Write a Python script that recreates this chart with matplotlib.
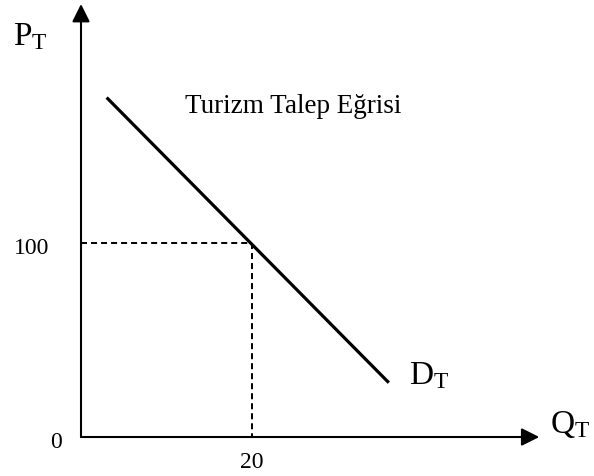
import matplotlib
matplotlib.use("Agg")
import matplotlib.pyplot as plt

plt.rcParams['font.family'] = ['Liberation Serif', 'DejaVu Serif']
plt.rcParams['mathtext.fontset'] = 'custom'
plt.rcParams['mathtext.rm'] = 'Liberation Serif'

# Data
demand_q = [3.0, 36.0]
demand_p = [175.0, 28.0]
eq_q = 20
eq_p = 100
tick_labels = {"origin": "0", "q": "20", "p": "100"}
title_text = "Turizm Talep Eğrisi"
x_label = r"$\mathregular{Q_T}$"
y_label = r"$\mathregular{P_T}$"
curve_label = r"$\mathregular{D_T}$"
q_axis_end = 53.6
p_axis_end = 223.2

fig = plt.figure(figsize=(5.94, 4.77), dpi=100)
ax = fig.add_axes([0, 0, 1, 1])
ax.set_xlim(-9.474, 60.0)
ax.set_ylim(-20.1, 225.8)
ax.axis('off')

arrow_kw = dict(arrowstyle='-|>,head_length=0.4,head_width=0.2', mutation_scale=27,
                lw=1.5, color='black', shrinkA=0, shrinkB=0)
ax.annotate('', xy=(q_axis_end, 0), xytext=(0, 0), arrowprops=arrow_kw)
ax.annotate('', xy=(0, p_axis_end), xytext=(0, 0), arrowprops=arrow_kw)

ax.plot(demand_q, demand_p, color='black', lw=2.3, solid_capstyle='butt')

ax.plot([0, eq_q], [eq_p, eq_p], color='black', lw=1.4, dashes=(3.1, 2.05))
ax.plot([eq_q, eq_q], [eq_p, 0], color='black', lw=1.4, dashes=(3.1, 2.05))

ax.text(-5.73, 94.8, tick_labels["p"], fontsize=17, ha='center', va='baseline')
ax.text(-2.92, -5.15, tick_labels["origin"], fontsize=17, ha='center', va='baseline')
ax.text(eq_q, -15.5, tick_labels["q"], fontsize=17, ha='center', va='baseline')

ax.text(12.16, 167.5, title_text, fontsize=19.5, ha='left', va='baseline')
ax.text(-7.95, 202.6, y_label, fontsize=24, ha='left', va='baseline')
ax.text(38.36, 27.8, curve_label, fontsize=24, ha='left', va='baseline')
ax.text(54.9, 2.58, x_label, fontsize=24, ha='left', va='baseline')

fig.savefig('out.png', dpi=100)
